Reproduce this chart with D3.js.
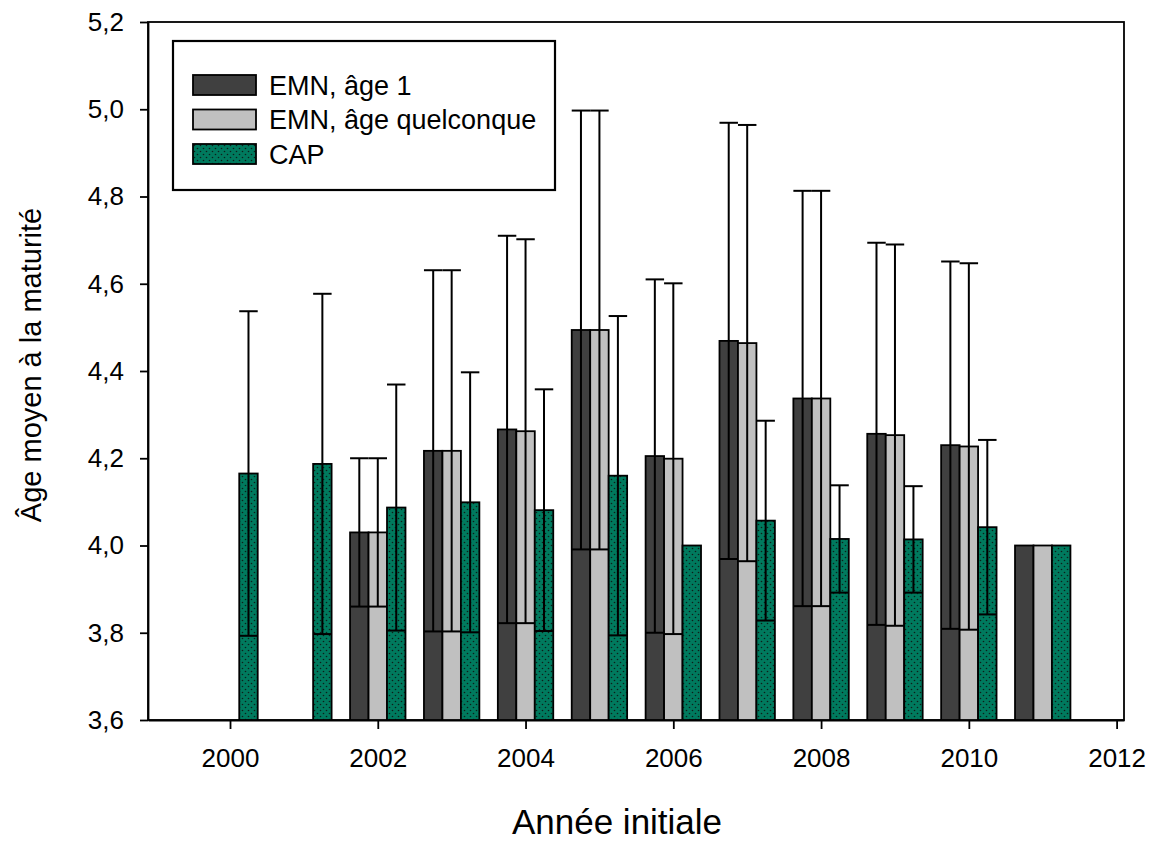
<!DOCTYPE html>
<html>
<head>
<meta charset="utf-8">
<script src="https://cdn.jsdelivr.net/npm/d3@7"></script>
<style>
  body { margin: 0; background: #fff; }
  text { font-family: "Liberation Sans", Arial, sans-serif; fill: #000; }
</style>
</head>
<body>
<div id="chart"></div>
<script>
// Data
const years = [2000, 2001, 2002, 2003, 2004, 2005, 2006, 2007, 2008, 2009, 2010, 2011];
const emnAge1 = [null, null, 4.03, 4.217, 4.266, 4.494, 4.205, 4.469, 4.337, 4.256, 4.230, 4.0];
const emnAge1Err = [null, null, 0.17, 0.414, 0.444, 0.503, 0.405, 0.50, 0.476, 0.438, 0.421, 0];
const emnAny = [null, null, 4.03, 4.217, 4.262, 4.494, 4.199, 4.464, 4.337, 4.253, 4.227, 4.0];
const emnAnyErr = [null, null, 0.17, 0.414, 0.44, 0.503, 0.402, 0.50, 0.476, 0.437, 0.42, 0];
const cap = [4.165, 4.187, 4.087, 4.099, 4.081, 4.160, 4.0, 4.057, 4.015, 4.014, 4.042, 4.0];
const capErr = [0.372, 0.39, 0.282, 0.298, 0.277, 0.366, 0, 0.229, 0.123, 0.122, 0.2, 0];

const seriesNames = ['EMN, âge 1', 'EMN, âge quelconque', 'CAP'];
const xTicks = [2000, 2002, 2004, 2006, 2008, 2010, 2012];
const yTicks = [3.6, 3.8, 4.0, 4.2, 4.4, 4.6, 4.8, 5.0, 5.2];

const series = [
  { key: seriesNames[0], values: emnAge1, errs: emnAge1Err, fill: '#404040' },
  { key: seriesNames[1], values: emnAny, errs: emnAnyErr, fill: '#c0c0c0' },
  { key: seriesNames[2], values: cap, errs: capErr, fill: 'url(#dots)' }
];

// Dimensions
const W = 1153, H = 841;
const margin = { top: 22, right: 29, bottom: 121, left: 148 };
const width = W - margin.left - margin.right;
const height = H - margin.top - margin.bottom;

const svg = d3.select('#chart')
  .append('svg')
  .attr('width', W)
  .attr('height', H);

// Dotted green fill for CAP
const defs = svg.append('defs');
const pat = defs.append('pattern')
  .attr('id', 'dots')
  .attr('width', 6)
  .attr('height', 6)
  .attr('patternUnits', 'userSpaceOnUse');
pat.append('rect').attr('width', 6).attr('height', 6).attr('fill', '#007a5e');
pat.append('circle').attr('cx', 1.5).attr('cy', 1.5).attr('r', 0.8).attr('fill', '#0d1f1a');
pat.append('circle').attr('cx', 4.5).attr('cy', 4.5).attr('r', 0.8).attr('fill', '#0d1f1a');

const g = svg.append('g')
  .attr('transform', `translate(${margin.left},${margin.top})`);

// Scales
const x = d3.scaleLinear()
  .domain([1998.89, 2012.1])
  .range([0, width]);

const y = d3.scaleLinear()
  .domain([3.6, 5.2])
  .range([height, 0]);

// bar slots inside a year, in year units
const sub = d3.scaleBand()
  .domain(seriesNames)
  .range([-0.375, 0.375]);

const fr = d3.formatLocale({ decimal: ',', thousands: ' ', grouping: [3], currency: ['', '€'] });

// Axes
const xAxis = g.append('g')
  .attr('transform', `translate(0,${height})`)
  .call(d3.axisBottom(x).tickValues(xTicks).tickFormat(d3.format('d'))
    .tickSizeInner(9).tickSizeOuter(0).tickPadding(20));

const yAxis = g.append('g')
  .call(d3.axisLeft(y).tickValues(yTicks).tickFormat(fr.format('.1f'))
    .tickSizeInner(8).tickSizeOuter(0).tickPadding(16));

[xAxis, yAxis].forEach(a => {
  a.selectAll('text').style('font-size', '26px').attr('fill', '#000');
  a.selectAll('line').attr('stroke', '#000').attr('stroke-width', 1.8);
  a.select('.domain').attr('stroke', '#000').attr('stroke-width', 1.8);
});

// Frame
g.append('rect')
  .attr('width', width)
  .attr('height', height)
  .attr('fill', 'none')
  .attr('stroke', '#000')
  .attr('stroke-width', 1.8);

// Bars
const rows = [];
series.forEach(s => {
  years.forEach((yr, i) => {
    if (s.values[i] == null) return;
    const x0 = x(yr + sub(s.key));
    const x1 = x(yr + sub(s.key) + sub.bandwidth());
    rows.push({ key: s.key, fill: s.fill, v: s.values[i], e: s.errs[i], x0, x1 });
  });
});

g.selectAll('.bar')
  .data(rows)
  .enter()
  .append('rect')
  .attr('class', 'bar')
  .attr('x', d => d.x0)
  .attr('width', d => d.x1 - d.x0)
  .attr('y', d => y(d.v))
  .attr('height', d => height - y(d.v))
  .attr('fill', d => d.fill)
  .attr('stroke', '#000')
  .attr('stroke-width', 1.8);

// Error bars (symmetric, cap width = bar width)
const errs = g.selectAll('.err')
  .data(rows.filter(d => d.e > 0))
  .enter()
  .append('g')
  .attr('class', 'err')
  .attr('stroke', '#000')
  .attr('stroke-width', 2);

errs.append('line')
  .attr('x1', d => (d.x0 + d.x1) / 2)
  .attr('x2', d => (d.x0 + d.x1) / 2)
  .attr('y1', d => y(d.v - d.e))
  .attr('y2', d => y(d.v + d.e));

errs.append('line')
  .attr('x1', d => d.x0)
  .attr('x2', d => d.x1)
  .attr('y1', d => y(d.v + d.e))
  .attr('y2', d => y(d.v + d.e));

errs.append('line')
  .attr('x1', d => d.x0)
  .attr('x2', d => d.x1)
  .attr('y1', d => y(d.v - d.e))
  .attr('y2', d => y(d.v - d.e));

// Legend
const legend = svg.append('g');
legend.append('rect')
  .attr('x', 173)
  .attr('y', 41)
  .attr('width', 382)
  .attr('height', 149)
  .attr('fill', '#fff')
  .attr('stroke', '#000')
  .attr('stroke-width', 2.2);

const items = legend.selectAll('.item')
  .data(series)
  .enter()
  .append('g')
  .attr('class', 'item')
  .attr('transform', (d, i) => `translate(193,${75 + i * 34.5})`);

items.append('rect')
  .attr('width', 63)
  .attr('height', 20)
  .attr('fill', d => d.fill)
  .attr('stroke', '#000')
  .attr('stroke-width', 1.8);

items.append('text')
  .attr('x', 76)
  .attr('y', 10)
  .attr('dy', '0.36em')
  .style('font-size', '27px')
  .text(d => d.key);

// Axis titles
svg.append('text')
  .attr('x', 617)
  .attr('y', 834)
  .attr('text-anchor', 'middle')
  .style('font-size', '35px')
  .text('Année initiale');

svg.append('text')
  .attr('transform', 'translate(41,365) rotate(-90)')
  .attr('text-anchor', 'middle')
  .style('font-size', '29px')
  .text('Âge moyen à la maturité');
</script>
</body>
</html>
